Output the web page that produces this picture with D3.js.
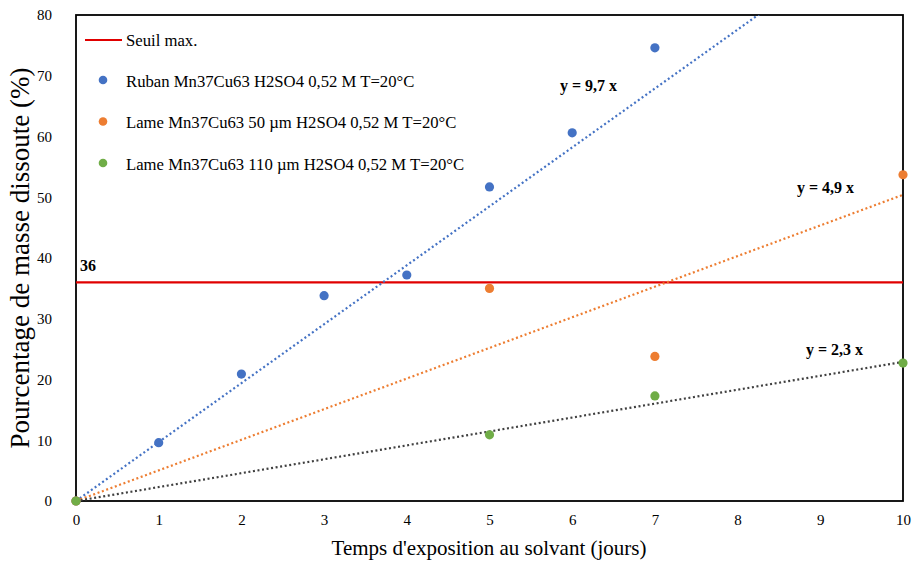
<!DOCTYPE html>
<html><head><meta charset="utf-8">
<script src="https://cdn.jsdelivr.net/npm/d3@7"></script>
<style>body{margin:0;background:#fff}svg{display:block}svg text{font-family:"Liberation Serif","Times New Roman",serif !important}</style>
</head><body><svg id="c" width="914" height="561"></svg>
<script>
const xTicks = [0,1,2,3,4,5,6,7,8,9,10];
const yTicks = [0,10,20,30,40,50,60,70,80];
const rubanX = [0,1,2,3,4,5,6,7];
const rubanY = [0,9.6,20.9,33.8,37.2,51.7,60.6,74.6];
const lame50X = [0,5,7,10];
const lame50Y = [0,35.0,23.8,53.7];
const lame110X = [0,5,7,10];
const lame110Y = [0,10.9,17.3,22.7];
const seuil = 36;
const trendRuban = [[0,0],[10,97]];
const trendLame50 = [[0,0],[10,50.4]];
const trendLame110 = [[0,0],[10,22.9]];
const legendLabels = ["Seuil max.","Ruban Mn37Cu63 H2SO4 0,52 M T=20°C","Lame Mn37Cu63 50 µm H2SO4 0,52 M T=20°C","Lame Mn37Cu63 110 µm H2SO4 0,52 M T=20°C"];
const eqLabels = ["y = 9,7 x","y = 4,9 x","y = 2,3 x"];
const colors = {blue:"#4472C4", orange:"#ED7D31", green:"#70AD47", red:"#E00000", dark:"#404040"};

const svg = d3.select("#c");
const L=76,R=903,T=15,B=501;
const x = d3.scaleLinear().domain([0,10]).range([L,R]);
const y = d3.scaleLinear().domain([0,80]).range([B,T]);

svg.append("defs").append("clipPath").attr("id","clip").append("rect")
  .attr("x",L).attr("y",T).attr("width",R-L).attr("height",B-T);

// axes
const xa = svg.append("g").attr("transform",`translate(0,${B})`)
  .call(d3.axisBottom(x).tickValues(xTicks).tickSize(0).tickPadding(13));
const ya = svg.append("g").attr("transform",`translate(${L},0)`)
  .call(d3.axisLeft(y).tickValues(yTicks).tickSize(0).tickPadding(24));
[xa,ya].forEach(a=>{a.select(".domain").remove();a.selectAll("text").attr("font-size",15).attr("fill","#000");});

// frame
svg.append("rect").attr("x",L).attr("y",T).attr("width",R-L).attr("height",B-T)
  .attr("fill","none").attr("stroke","#000").attr("stroke-width",1.8);

const g = svg.append("g").attr("clip-path","url(#clip)");
const line = d3.line().x(d=>x(d[0])).y(d=>y(d[1]));

// seuil
g.append("line").attr("x1",x(0)).attr("x2",x(10)).attr("y1",y(seuil)).attr("y2",y(seuil))
  .attr("stroke",colors.red).attr("stroke-width",2.2);

[[trendRuban,colors.blue],[trendLame50,colors.orange],[trendLame110,colors.dark]].forEach(([d,c])=>{
  g.append("path").datum(d).attr("d",line).attr("fill","none").attr("stroke",c)
   .attr("stroke-width",2.2).attr("stroke-dasharray","2,2.6");
});

function dots(xs,ys,c){
  svg.append("g").selectAll("circle").data(xs.map((v,i)=>[v,ys[i]])).join("circle")
    .attr("cx",d=>x(d[0])).attr("cy",d=>y(d[1])).attr("r",4.6).attr("fill",c);
}
dots(rubanX,rubanY,colors.blue);
dots(lame50X,lame50Y,colors.orange);
dots(lame110X,lame110Y,colors.green);

// labels
svg.append("text").attr("x",80).attr("y",271).attr("font-size",16).attr("font-weight","bold").text(String(seuil));
const eqPos = [[560,91],[797,193],[806,355]];
eqLabels.forEach((t,i)=>svg.append("text").attr("x",eqPos[i][0]).attr("y",eqPos[i][1])
  .attr("font-size",16).attr("font-weight","bold").text(t));

// legend
const lg = svg.append("g");
lg.append("line").attr("x1",85).attr("x2",122).attr("y1",40).attr("y2",40).attr("stroke",colors.red).attr("stroke-width",2.2);
[colors.blue,colors.orange,colors.green].forEach((c,i)=>{
  lg.append("circle").attr("cx",103).attr("cy",80+i*41.5).attr("r",4.3).attr("fill",c);
});
legendLabels.forEach((t,i)=>lg.append("text").attr("x",126).attr("y",40+i*41.3).attr("dy","0.35em")
  .attr("font-size",16.7).text(t));

// axis titles
svg.append("text").attr("x",489).attr("y",555).attr("text-anchor","middle").attr("font-size",21)
  .text("Temps d'exposition au solvant (jours)");
svg.append("text").attr("transform","translate(29,258) rotate(-90)").attr("text-anchor","middle")
  .attr("font-size",27).text("Pourcentage de masse dissoute (%)");
</script></body></html>
